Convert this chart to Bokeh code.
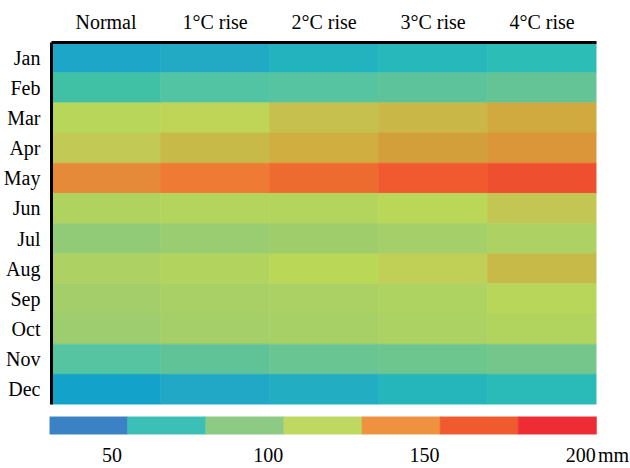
import numpy as np
from bokeh.plotting import figure
from bokeh.models import ColumnDataSource, LinearColorMapper, FixedTicker, Range1d
from bokeh.layouts import column
from bokeh.embed import file_html
from bokeh.resources import INLINE
from bokeh.transform import transform

# ---------------- data ----------------
months = ["Jan", "Feb", "Mar", "Apr", "May", "Jun",
          "Jul", "Aug", "Sep", "Oct", "Nov", "Dec"]
scenarios = ["Normal", "1°C rise", "2°C rise", "3°C rise", "4°C rise"]

normal = [47, 65, 110, 120, 148, 104, 86, 102, 95, 92, 72, 44]
rise_1 = [49, 70, 116, 127, 157, 107, 90, 106, 99, 96, 75, 48]
rise_2 = [52, 72, 124, 133, 165, 107, 93, 112, 100, 98, 78, 50]
rise_3 = [55, 74, 128, 137, 176, 113, 96, 118, 103, 101, 80, 54]
rise_4 = [58, 76, 134, 142, 186, 121, 102, 127, 110, 105, 82, 57]

bar_edges = [30, 55, 80, 105, 130, 155, 180, 205]
bar_colors = ["#3B82C4", "#3BBFB7", "#8DCB85", "#BED862",
              "#EF9240", "#F05A2F", "#EE2C33"]
bar_ticks = [50, 100, 150, 200]
unit_label = "mm"
unit_pos = 210.5

# ---------------- colour map for cells ----------------
anchor_vals = [30, 44, 48, 52, 55, 58, 65, 70, 74, 76, 80, 82, 86, 93, 100, 105,
               112, 116, 121, 127, 133, 137, 142, 148, 157, 165, 176, 186, 205]
anchor_cols = ["#1398CE", "#12A2CA", "#22A8C6", "#22B3BF", "#26B8BB", "#2DBDB6",
               "#40C0A5", "#52C4A4", "#5CC39A", "#66C496", "#6DC68E", "#74C68A",
               "#93CB77", "#9FCD6C", "#ABD165", "#B1D45F", "#BAD758", "#BED558",
               "#C3C653", "#C8BA49", "#D0AE40", "#D39F3B", "#DB963A", "#E58A38",
               "#EF7A33", "#EE6B30", "#F05A2E", "#EE4F2E", "#EE2D34"]
LOW, HIGH = 30, 205


def hex2rgb(h):
    h = h.lstrip("#")
    return [int(h[i:i + 2], 16) for i in (0, 2, 4)]


rgb = np.array([hex2rgb(c) for c in anchor_cols], dtype=float)
grid = np.linspace(LOW, HIGH, 512)
chan = [np.interp(grid, anchor_vals, rgb[:, k]) for k in range(3)]
palette = ["#%02x%02x%02x" % (int(round(r)), int(round(g)), int(round(b)))
           for r, g, b in zip(*chan)]
mapper = LinearColorMapper(palette=palette, low=LOW, high=HIGH)

series = [normal, rise_1, rise_2, rise_3, rise_4]
xs, ys, vs = [], [], []
for s, vals in zip(scenarios, series):
    for m, v in zip(months, vals):
        xs.append(s)
        ys.append(m)
        vs.append(v)
src = ColumnDataSource(dict(scenario=xs, month=ys, v=vs))

FONT = "Liberation Serif"

# ---------------- heatmap ----------------
p = figure(width=630, height=406, x_range=scenarios, y_range=months[::-1],
           x_axis_location="above", output_backend="svg", toolbar_location=None,
           min_border_left=51, min_border_right=34, min_border_top=42,
           min_border_bottom=2)
p.frame_align = False
p.rect(x="scenario", y="month", width=1, height=1, source=src,
       fill_color=transform("v", mapper), line_color=transform("v", mapper),
       line_width=0.6)

for ax in (p.xaxis, p.yaxis):
    ax.axis_line_color = "black"
    ax.axis_line_width = 3
    ax.major_tick_line_color = None
    ax.minor_tick_line_color = None
    ax.major_tick_out = 0
    ax.major_label_text_font = FONT
    ax.major_label_text_font_size = "20px"
    ax.major_label_text_color = "black"
p.xaxis.major_label_standoff = 10
p.yaxis.major_label_standoff = 11
p.xgrid.grid_line_color = None
p.ygrid.grid_line_color = None
p.outline_line_color = None

# ---------------- colour bar ----------------
c = figure(width=630, height=62, x_range=Range1d(LOW, 215.9), y_range=Range1d(0, 1),
           y_axis_location=None, output_backend="svg", toolbar_location=None,
           min_border_left=49, min_border_right=0, min_border_top=10,
           min_border_bottom=27)
c.frame_align = False
bsrc = ColumnDataSource(dict(l=bar_edges[:-1], r=bar_edges[1:], col=bar_colors))
c.quad(left="l", right="r", bottom=0, top=1, color="col", source=bsrc, line_width=0.6)
c.xaxis.ticker = FixedTicker(ticks=bar_ticks + [unit_pos])
c.xaxis.major_label_overrides = {unit_pos: unit_label}
c.xaxis.axis_line_color = None
c.xaxis.major_tick_line_color = None
c.xaxis.minor_tick_line_color = None
c.xaxis.major_tick_out = 0
c.xaxis.major_label_standoff = 9
c.xaxis.major_label_text_font = FONT
c.xaxis.major_label_text_font_size = "20px"
c.xaxis.major_label_text_color = "black"
c.xgrid.grid_line_color = None
c.ygrid.grid_line_color = None
c.outline_line_color = None

layout = column(p, c)
open("out.html", "w").write(file_html(layout, INLINE))
